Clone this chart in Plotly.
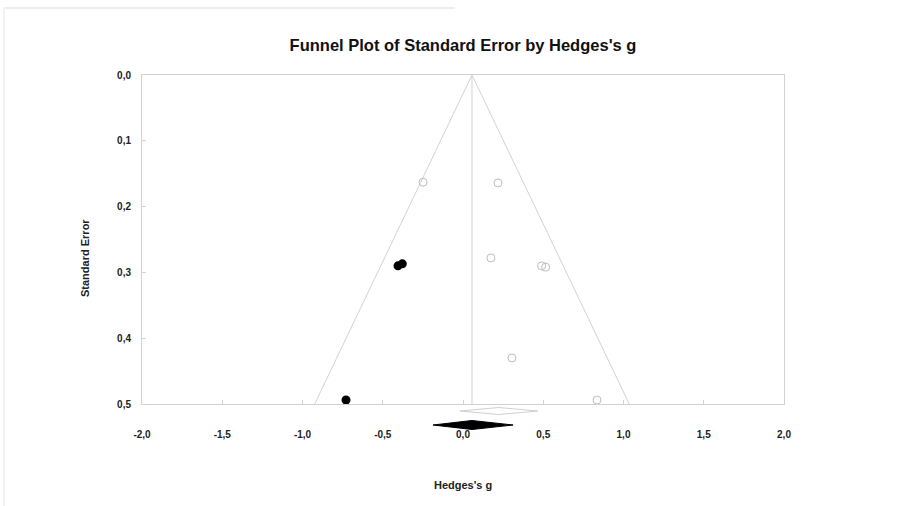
import plotly.graph_objects as go

# ---- data ----
obs_g = [-0.249, 0.218, 0.174, 0.49, 0.515, 0.305, 0.835]
obs_se = [0.163, 0.164, 0.278, 0.290, 0.292, 0.430, 0.494]
imp_g = [-0.405, -0.378, -0.729]
imp_se = [0.290, 0.287, 0.494]
obs_mean, obs_lo, obs_hi = 0.222, -0.019, 0.467
adj_mean, adj_lo, adj_hi = 0.056, -0.187, 0.312
xtick_vals = [-2.0, -1.5, -1.0, -0.5, 0.0, 0.5, 1.0, 1.5, 2.0]
xtick_text = ["-2,0", "-1,5", "-1,0", "-0,5", "0,0", "0,5", "1,0", "1,5", "2,0"]
ytick_vals = [0.0, 0.1, 0.2, 0.3, 0.4, 0.5]
ytick_text = ["0,0", "0,1", "0,2", "0,3", "0,4", "0,5"]
se_max = 0.5

LINE = "#d2d2d2"
FONT = "Liberation Sans"

fig = go.Figure()

# funnel lines
fig.add_trace(go.Scatter(
    x=[adj_mean - 1.96 * se_max, adj_mean, adj_mean + 1.96 * se_max],
    y=[se_max, 0, se_max], mode="lines",
    line=dict(color=LINE, width=1), hoverinfo="skip", showlegend=False))
fig.add_trace(go.Scatter(
    x=[adj_mean, adj_mean], y=[0, se_max], mode="lines",
    line=dict(color=LINE, width=1), hoverinfo="skip", showlegend=False))

# observed studies
fig.add_trace(go.Scatter(
    x=obs_g, y=obs_se, mode="markers",
    marker=dict(symbol="circle-open", size=8, color="#bdbdbd", line=dict(width=1)),
    showlegend=False))
# imputed studies
fig.add_trace(go.Scatter(
    x=imp_g, y=imp_se, mode="markers",
    marker=dict(symbol="circle", size=9, color="black"),
    showlegend=False))

# summary diamonds on lower axis
OPEN_Y, OPEN_H = 7, 3.5
FILL_Y, FILL_H = 21, 4.5
fig.add_trace(go.Scatter(
    x=[obs_lo, obs_mean, obs_hi, obs_mean, obs_lo],
    y=[OPEN_Y, OPEN_Y - OPEN_H, OPEN_Y, OPEN_Y + OPEN_H, OPEN_Y],
    mode="lines", line=dict(color="#d0d0d0", width=1),
    xaxis="x", yaxis="y2", showlegend=False, hoverinfo="skip"))
fig.add_trace(go.Scatter(
    x=[adj_lo, adj_mean, adj_hi, adj_mean, adj_lo],
    y=[FILL_Y, FILL_Y - FILL_H, FILL_Y, FILL_Y + FILL_H, FILL_Y],
    mode="lines", fill="toself", fillcolor="black", line=dict(color="black", width=1),
    xaxis="x", yaxis="y2", showlegend=False, hoverinfo="skip"))

tickfont = dict(family=FONT, size=10, color="#222", weight="bold")
titlefont = dict(family=FONT, size=11, color="#222", weight="bold")

fig.update_layout(
    width=914, height=506,
    margin=dict(l=142, r=130, t=75, b=66),
    paper_bgcolor="white", plot_bgcolor="white",
    title=dict(text="Funnel Plot of Standard Error by Hedges's g",
               x=0.5, xref="paper", xanchor="center",
               y=1 - 45 / 506, yref="container", yanchor="middle",
               font=dict(family=FONT, size=16.5, color="#111", weight="bold")),
    xaxis=dict(range=[-2, 2], tickvals=xtick_vals, ticktext=xtick_text,
               showgrid=False, zeroline=False, showline=True, mirror=True,
               linecolor=LINE, linewidth=1, ticks="inside", ticklen=4,
               tickcolor=LINE, tickfont=tickfont, anchor="y",
               ticklabelstandoff=21),
    yaxis=dict(range=[0.5, 0], domain=[36 / 365, 1], tickvals=ytick_vals,
               ticktext=ytick_text, showgrid=False, zeroline=False,
               showline=True, mirror=True, linecolor=LINE, linewidth=1,
               ticks="inside", ticklen=4, tickcolor=LINE, tickfont=tickfont,
               ticklabelstandoff=8),
    yaxis2=dict(range=[36, 0], domain=[0, 36 / 365], visible=False,
                showgrid=False, zeroline=False, anchor="x"),
    annotations=[
        dict(text="Hedges's g", xref="paper", yref="paper", x=0.5,
             y=(440 - 485) / 365, showarrow=False, xanchor="center",
             yanchor="middle", font=titlefont),
        dict(text="Standard Error", xref="paper", yref="paper",
             x=(85 - 142) / 642, y=(440 - 258) / 365, textangle=-90,
             showarrow=False, xanchor="center", yanchor="middle",
             font=titlefont),
    ],
    shapes=[
        dict(type="line", xref="paper", yref="paper",
             x0=(4 - 142) / 642, x1=(455 - 142) / 642,
             y0=(440 - 8) / 365, y1=(440 - 8) / 365,
             line=dict(color="#eeeeee", width=2)),
        dict(type="line", xref="paper", yref="paper",
             x0=(4 - 142) / 642, x1=(4 - 142) / 642,
             y0=(440 - 8) / 365, y1=(440 - 506) / 365,
             line=dict(color="#f2f2f2", width=2)),
    ],
)

fig.write_html("out.html", config={"displayModeBar": False},
               post_script="document.body.style.margin='0';")
